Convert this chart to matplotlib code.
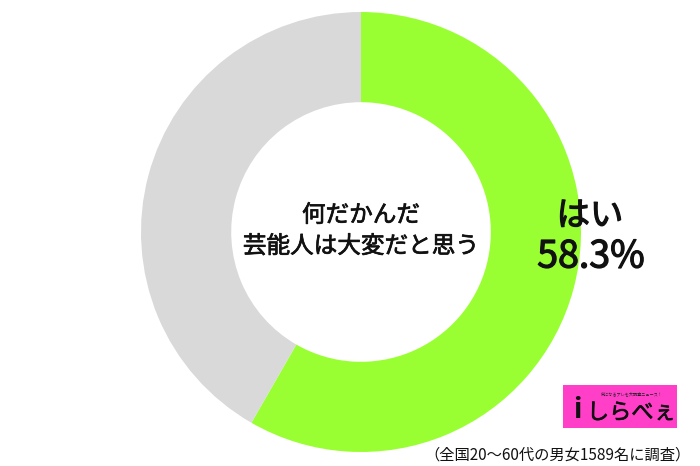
import matplotlib
matplotlib.use('Agg')
import matplotlib.pyplot as plt
from matplotlib.patches import Rectangle
import matplotlib.patheffects as pe

plt.rcParams['font.family'] = ['Noto Sans CJK JP', 'DejaVu Sans']

labels = ['はい', 'その他']
values = [58.3, 41.7]
colors = ['#99ff33', '#d9d9d9']
center_text = '何だかんだ\n芸能人は大変だと思う'
note = '（全国20～60代の男女1589名に調査）'

# thicken regular strokes a little, like a medium weight
medium = [pe.withStroke(linewidth=0.5, foreground='#111111')]
heavy = [pe.withStroke(linewidth=0.9, foreground='#111111')]

fig = plt.figure(figsize=(7, 4.66), dpi=100)

# donut axes, placed by pixel: center (361, 232), radius 220
cx, cy, r = 361, 232, 220
ax = fig.add_axes([(cx - r) / 700, (466 - cy - r) / 466, 2 * r / 700, 2 * r / 466])
ax.pie(values, colors=colors, startangle=90, counterclock=False,
       radius=1.0, wedgeprops=dict(width=0.41, edgecolor='none'))
ax.set_xlim(-1, 1)
ax.set_ylim(-1, 1)
ax.set_aspect('equal')
ax.axis('off')

fig.text(cx / 700, 1 - 231 / 466, center_text, ha='center', va='center', fontsize=17,
         linespacing=1.45, color='#111111', path_effects=medium)

fig.text(590 / 700, 1 - 216 / 466, labels[0], ha='center', va='center',
         fontsize=24, color='#111111', path_effects=heavy)
fig.text(591 / 700, 1 - 257 / 466, '{}%'.format(values[0]), ha='center', va='center',
         fontsize=27, color='#111111', path_effects=heavy)

# logo box
logo = fig.add_axes([563 / 700, 1 - 428 / 466, 114 / 700, 43 / 466])
logo.add_patch(Rectangle((0, 0), 1, 1, color='#ff3fc8'))
logo.set_xlim(0, 1)
logo.set_ylim(0, 1)
logo.axis('off')
logo.text(0.6, 0.8, '気になるアレを大調査ニュース！', ha='center', va='center',
          fontsize=3, color='#222222')
logo.text(0.13, 0.42, 'i', ha='center', va='center', fontsize=20,
          fontweight='bold', color='#111111')
logo.text(0.6, 0.36, 'しらべぇ', ha='center', va='center', fontsize=16,
          color='#111111', path_effects=medium)

fig.text(691 / 700, 1 - 455 / 466, note, ha='right', va='center',
         fontsize=11, color='#111111')

fig.savefig('out.png', dpi=100)
